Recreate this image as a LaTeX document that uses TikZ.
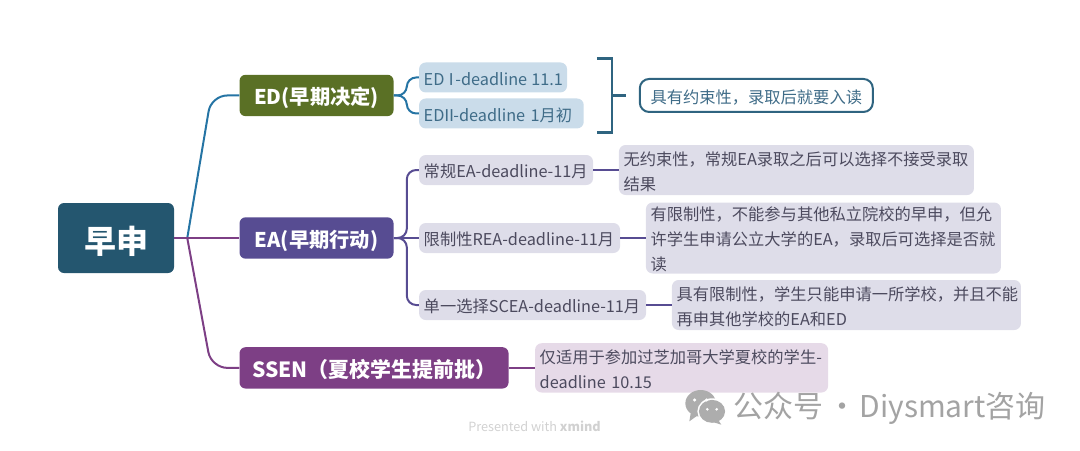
\documentclass[tikz,border=0pt]{standalone}
\usepackage{fontspec}
\setmainfont{Noto Sans CJK SC}
\usepackage{xcolor}
\usetikzlibrary{positioning,calc}
\definecolor{rootTeal}{HTML}{24566F}
\definecolor{edGreen}{HTML}{5A7025}
\definecolor{eaViolet}{HTML}{574C92}
\definecolor{ssPlum}{HTML}{7D3F85}
\definecolor{edLine}{HTML}{2574A4}
\definecolor{braceTeal}{HTML}{2F6480}
\definecolor{edFill}{HTML}{CADCEA}
\definecolor{eaFill}{HTML}{DEDDE9}
\definecolor{ssFill}{HTML}{E6DAE8}
\definecolor{leafText}{HTML}{4C4A5E}
\definecolor{edText}{HTML}{3F6C88}
\tikzset{
  rootbox/.style={fill=rootTeal,rounded corners=4.5pt,text=white,font=\fontsize{24}{28}\selectfont\bfseries,
    minimum width=87pt,minimum height=52.5pt,inner sep=0pt,text height=23pt,text depth=0pt},
  mainbox/.style={fill=#1,rounded corners=4.5pt,text=white,font=\fontsize{15.2}{18}\selectfont\bfseries,
    minimum height=31pt,inner sep=0pt,text height=13.8pt,text depth=0pt},
  leaf/.style={fill=#1,rounded corners=5pt,inner sep=3.5pt,inner ysep=0pt,align=left,text=leafText,
    font=\fontsize{12.2}{18.75}\selectfont,minimum height=22.5pt,text height=11.8pt,text depth=0pt},
  note/.style={leaf=eaFill},
  edline/.style={draw=edLine,line width=1.5pt},
  ealine/.style={draw=eaViolet,line width=1.5pt},
  ssline/.style={draw=ssPlum,line width=1.5pt},
  braceline/.style={draw=braceTeal,line width=1.9pt}
}
\begin{document}
\begin{tikzpicture}
  \useasboundingbox (0,0) rectangle (810pt,-337.5pt);
  \node[rootbox] (root) at (87pt,-178.5pt) {早申};
  \coordinate[right=9.75pt of root] (hub);

  \node[mainbox=eaViolet, minimum width=115.5pt, right=48.75pt of root] (ea) {EA(早期行动)};
  \node[mainbox=edGreen, minimum width=115.5pt, above=75.5pt of ea] (ed) {ED(早期决定)};
  \node[mainbox=ssPlum, minimum width=201.75pt, below right=66pt and 0pt of ea.south west, font=\fontsize{15.7}{18}\selectfont\bfseries] (ssen) {SSEN（夏校学生提前批）};

  \node[leaf=edFill, text=edText, text width=104pt, right=18.75pt of ed.east, yshift=13.5pt] (edone) {\mbox{ED\hspace{-1pt}Ⅰ\hspace{-3pt}-deadline\hspace{-1pt} 11.1}};
  \node[leaf=edFill, text=edText, text width=116.5pt, right=18.75pt of ed.east, yshift=-13.5pt] (edtwo) {\mbox{ED\hspace{-2.5pt}Ⅱ\hspace{-3pt}-deadline 1月初}};
  \node[draw=braceTeal, line width=1.5pt, fill=white, rounded corners=7pt, text=edText, font=\fontsize{12.2}{18.75}\selectfont,
    minimum width=174.75pt, minimum height=24.75pt, inner sep=0pt, text height=11.4pt, text depth=0pt, right=183.75pt of ed.east] (summary) {具有约束性，录取后就要入读};
  \coordinate (brace) at ($(summary.west)+(-20.25pt,0)$);
  \coordinate (tick) at ($(summary.west)+(-9.25pt,0)$);

  \node[leaf=eaFill, text width=123.5pt, right=18.75pt of ea.east, yshift=51pt] (regular) {常规EA-deadline-11月};
  \node[leaf=eaFill, text width=143.75pt, right=18.75pt of ea.east] (restrict) {限制性REA-deadline-11月};
  \node[leaf=eaFill, text width=163.25pt, right=18.75pt of ea.east, yshift=-50.25pt] (single) {单一选择SCEA-deadline-11月};

  \node[note, text width=259.25pt, minimum height=37.5pt, text depth=18.75pt, right=19pt of regular] (regnote) {无约束性，常规EA录取之后可以选择不接受录取\\结果};
  \node[note, text width=259.25pt, minimum height=53.25pt, text depth=37.5pt, right=19pt of restrict] (resnote) {有限制性，不能参与其他私立院校的早申，但允\\许学生申请公立大学的EA，录取后可选择是否就\\读};
  \node[note, text width=254.75pt, minimum height=37.5pt, text depth=18.75pt, right=19pt of single] (sinnote) {具有限制性，学生只能申请一所学校，并且不能\\再申其他学校的EA和ED};
  \node[leaf=ssFill, text width=212.75pt, minimum height=37pt, text depth=18.75pt, right=19.5pt of ssen] (ssnote) {仅适用于参加过芝加哥大学夏校的学生-\\deadline 10.15};

  \coordinate (edbend) at ($(ed.west)+(-21pt,0)$);
  \coordinate (ssbend) at ($(ssen.west)+(-21pt,0)$);
  \draw[edline, rounded corners=12pt] (hub) -- (edbend) -- (ed.west);
  \draw[ssline, rounded corners=12pt] (hub) -- (ssbend) -- (ssen.west);
  \draw[ssline] (root) -- (ea);

  \draw[edline, rounded corners=7pt] (ed.east) -- ++(9.75pt,0) |- (edone.west);
  \draw[edline, rounded corners=7pt] (ed.east) -- ++(9.75pt,0) |- (edtwo.west);
  \draw[braceline] ($(brace)+(-11.25pt,27.75pt)$) -- ++(11.25pt,0) -- ++(0,-55.5pt) -- ++(-11.25pt,0);
  \draw[braceline] (brace) -- (tick);

  \draw[ealine, rounded corners=7pt] (ea.east) -- ++(9.75pt,0) |- (regular.west);
  \draw[ealine] (ea) -- (restrict);
  \draw[ealine, rounded corners=7pt] (ea.east) -- ++(9.75pt,0) |- (single.west);
  \draw[ealine] (regular) -- (regnote);
  \draw[ealine] (restrict) -- (resnote);
  \draw[ealine] (single) -- (sinnote);
  \draw[ssline] (ssen) -- (ssnote);

  % wechat mark
  \fill[black!32] (525.5pt,-302.5pt) ellipse (11.5pt and 10pt);
  \fill[black!32] (518pt,-310pt) -- (517pt,-316pt) -- (524pt,-311pt) -- cycle;
  \fill[white] (534pt,-308.5pt) ellipse (11pt and 9.8pt);
  \fill[black!32] (534pt,-308.5pt) ellipse (9.8pt and 8.6pt);
  \fill[black!32] (538pt,-314pt) -- (541pt,-318.5pt) -- (533pt,-316pt) -- cycle;
  \fill[white] (521pt,-300pt) circle (1.3pt) (530pt,-300pt) circle (1.3pt);
  \fill[white] (530.5pt,-307pt) circle (1.1pt) (537.5pt,-307pt) circle (1.1pt);

  \node[text=black!36, font=\fontsize{22.5}{26}\selectfont, anchor=west, inner sep=0pt] (mark) at (550pt,-306.5pt) {公众号\hspace{3pt}·\hspace{1.5pt}Diysmart咨询};
  \node[text=black!18, font=\fontsize{9.5}{12}\selectfont, anchor=west, inner sep=0pt] (xmind) at (351pt,-319.5pt) {Presented with \textbf{xmind}};
\end{tikzpicture}
\end{document}
